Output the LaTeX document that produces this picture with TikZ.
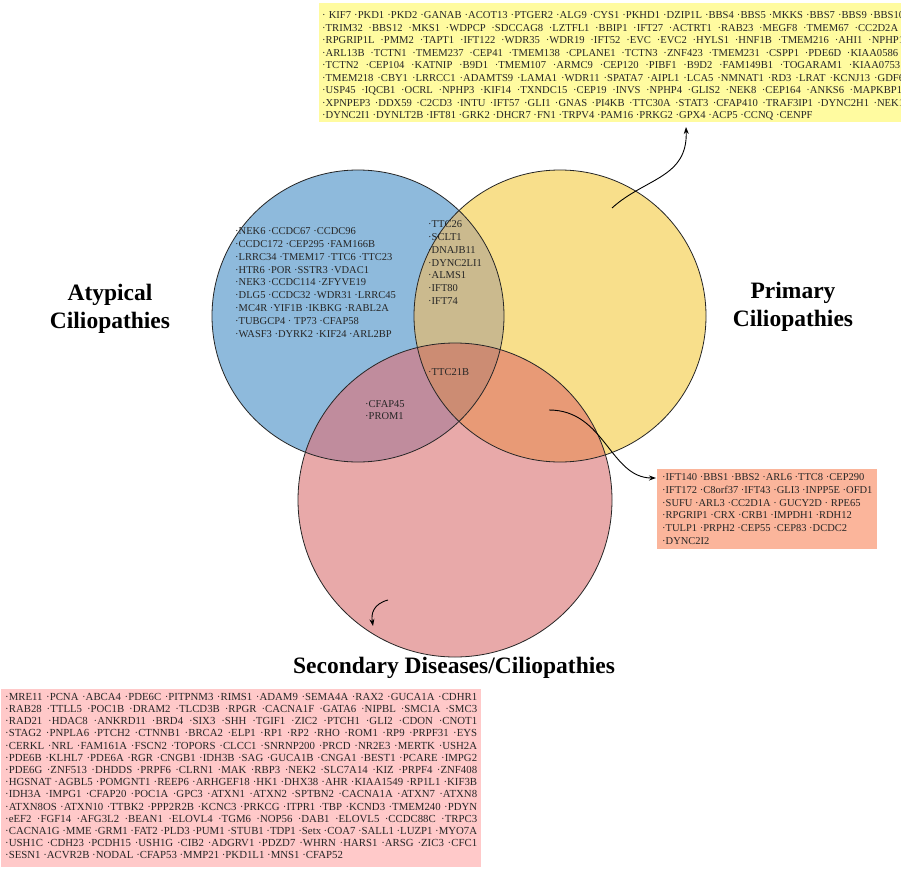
\documentclass[tikz,border=0pt]{standalone}
\usepackage{fontspec}
\setmainfont{Liberation Serif}
\usetikzlibrary{arrows.meta}
\definecolor{cblue}{HTML}{8EBADC}
\definecolor{cyel}{HTML}{F8DF8B}
\definecolor{cpink}{HTML}{E8A9A9}
\definecolor{cBY}{HTML}{CBBA8E}
\definecolor{cYP}{HTML}{E89A76}
\definecolor{cBP}{HTML}{C08C9D}
\definecolor{cTri}{HTML}{CC8C73}
\definecolor{boxyel}{HTML}{FFFBA0}
\definecolor{boxora}{HTML}{FBB59B}
\definecolor{boxpink}{HTML}{FFC9C9}
\newcommand{\jrow}[2]{\makebox[#1][s]{#2}}
\tikzset{
  vennline/.style={draw=black!85, line width=0.8pt},
  boxshape/.style={anchor=north west, inner sep=0pt, draw=none},
  genelist/.style={anchor=north west, align=left, inner sep=0pt, text=black!85},
  titletext/.style={font=\fontsize{23.5}{28.5}\selectfont\bfseries, align=center, text=black},
  pointer/.style={-{Stealth[length=7pt,width=5pt]}, line width=0.9pt, draw=black},
}
\begin{document}
\begin{tikzpicture}[x=1pt,y=-1pt]
\useasboundingbox (0,0) rectangle (901,869);
\clip (0,0) rectangle (901,869);
\fill[white] (0,0) rectangle (901,869);
\def\vennA{(358,316) circle[radius=146]}
\def\vennB{(560,316) circle[radius=146]}
\def\vennC{(455,500) circle[radius=157]}
% circles
\fill[cblue] \vennA;
\fill[cyel] \vennB;
\fill[cpink] \vennC;
\begin{scope}
  \clip \vennB;
  \fill[cYP] \vennC;
\end{scope}
\begin{scope}
  \clip \vennA;
  \fill[cBY] \vennB;
  \fill[cBP] \vennC;
  \clip \vennB;
  \fill[cTri] \vennC;
\end{scope}
\draw[vennline] \vennA;
\draw[vennline] \vennB;
\draw[vennline] \vennC;

% titles
\node[titletext] (atyp) at (110,309) {Atypical\\Ciliopathies};
\node[titletext] (prim) at (793,307) {Primary\\Ciliopathies};
\node[titletext] (second) at (454,668) {Secondary Diseases/Ciliopathies};

% circle lists
\node[genelist, font=\fontsize{10.5}{12.8}\selectfont] (atyplist) at (235,227.5) {%
·NEK6 ·CCDC67 ·CCDC96\\
·CCDC172 ·CEP295 ·FAM166B\\
·LRRC34 ·TMEM17 ·TTC6 ·TTC23\\
·HTR6 ·POR ·SSTR3 ·VDAC1\\
·NEK3 ·CCDC114 ·ZFYVE19\\
·DLG5 ·CCDC32 ·WDR31 ·LRRC45\\
·MC4R ·YIF1B ·IKBKG ·RABL2A\\
·TUBGCP4 · TP73 ·CFAP58\\
·WASF3 ·DYRK2 ·KIF24 ·ARL2BP};
\node[genelist, font=\fontsize{10.5}{12.8}\selectfont] (aplist) at (428,220.5) {%
·TTC26\\ ·SCLT1\\ ·DNAJB11\\ ·DYNC2LI1\\ ·ALMS1\\ ·IFT80\\ ·IFT74};
\node[genelist, font=\fontsize{10.5}{12.8}\selectfont] (trilist) at (428,368) {·TTC21B};
\node[genelist, font=\fontsize{10.5}{12.8}\selectfont] (aslist) at (365,400) {·CFAP45\\ ·PROM1};

% primary box
\node[boxshape, fill=boxyel, minimum width=600pt, minimum height=119pt] (primbox) at (319,3) {};
\node[genelist, font=\fontsize{10.6}{12.5}\selectfont] (primlist) at (322,11.5) {%
\jrow{582pt}{· KIF7 ·PKD1 ·PKD2 ·GANAB ·ACOT13 ·PTGER2 ·ALG9 ·CYS1 ·PKHD1 ·DZIP1L ·BBS4 ·BBS5 ·MKKS ·BBS7 ·BBS9 ·BBS10}\\
\jrow{576pt}{·TRIM32 ·BBS12 ·MKS1 ·WDPCP ·SDCCAG8 ·LZTFL1 ·BBIP1 ·IFT27 ·ACTRT1 ·RAB23 ·MEGF8 ·TMEM67 ·CC2D2A}\\
\jrow{582pt}{·RPGRIP1L ·PMM2 ·TAPT1 ·IFT122 ·WDR35 ·WDR19 ·IFT52 ·EVC ·EVC2 ·HYLS1 ·HNF1B ·TMEM216 ·AHI1 ·NPHP1}\\
\jrow{576pt}{·ARL13B ·TCTN1 ·TMEM237 ·CEP41 ·TMEM138 ·CPLANE1 ·TCTN3 ·ZNF423 ·TMEM231 ·CSPP1 ·PDE6D ·KIAA0586}\\
\jrow{578pt}{·TCTN2 ·CEP104 ·KATNIP ·B9D1 ·TMEM107 ·ARMC9 ·CEP120 ·PIBF1 ·B9D2 ·FAM149B1 ·TOGARAM1 ·KIAA0753}\\
\jrow{582pt}{·TMEM218 ·CBY1 ·LRRCC1 ·ADAMTS9 ·LAMA1 ·WDR11 ·SPATA7 ·AIPL1 ·LCA5 ·NMNAT1 ·RD3 ·LRAT ·KCNJ13 ·GDF6}\\
\jrow{580pt}{·USP45 ·IQCB1 ·OCRL ·NPHP3 ·KIF14 ·TXNDC15 ·CEP19 ·INVS ·NPHP4 ·GLIS2 ·NEK8 ·CEP164 ·ANKS6 ·MAPKBP1}\\
\jrow{582pt}{·XPNPEP3 ·DDX59 ·C2CD3 ·INTU ·IFT57 ·GLI1 ·GNAS ·PI4KB ·TTC30A ·STAT3 ·CFAP410 ·TRAF3IP1 ·DYNC2H1 ·NEK1}\\
·DYNC2I1 ·DYNLT2B ·IFT81 ·GRK2 ·DHCR7 ·FN1 ·TRPV4 ·PAM16 ·PRKG2 ·GPX4 ·ACP5 ·CCNQ ·CENPF};

% orange box
\node[boxshape, fill=boxora, minimum width=220pt, minimum height=80pt] (yellpinkbox) at (657,469) {};
\node[genelist, font=\fontsize{10.5}{12.8}\selectfont] (yplist) at (662,473.3) {%
·IFT140 ·BBS1 ·BBS2 ·ARL6 ·TTC8 ·CEP290\\
·IFT172 ·C8orf37 ·IFT43 ·GLI3 ·INPP5E ·OFD1\\
·SUFU ·ARL3 ·CC2D1A · GUCY2D · RPE65\\
·RPGRIP1 ·CRX ·CRB1 ·IMPDH1 ·RDH12\\
·TULP1 ·PRPH2 ·CEP55 ·CEP83 ·DCDC2\\
·DYNC2I2};

% secondary box
\node[boxshape, fill=boxpink, minimum width=480pt, minimum height=178pt] (secbox) at (1,689) {};
\node[genelist, font=\fontsize{10.8}{12.2}\selectfont] (seclist) at (5,693) {%
\jrow{472pt}{·MRE11 ·PCNA ·ABCA4 ·PDE6C ·PITPNM3 ·RIMS1 ·ADAM9 ·SEMA4A ·RAX2 ·GUCA1A ·CDHR1}\\
\jrow{472pt}{·RAB28 ·TTLL5 ·POC1B ·DRAM2 ·TLCD3B ·RPGR ·CACNA1F ·GATA6 ·NIPBL ·SMC1A ·SMC3}\\
\jrow{472pt}{·RAD21 ·HDAC8 ·ANKRD11 ·BRD4 ·SIX3 ·SHH ·TGIF1 ·ZIC2 ·PTCH1 ·GLI2 ·CDON ·CNOT1}\\
\jrow{472pt}{·STAG2 ·PNPLA6 ·PTCH2 ·CTNNB1 ·BRCA2 ·ELP1 ·RP1 ·RP2 ·RHO ·ROM1 ·RP9 ·PRPF31 ·EYS}\\
\jrow{472pt}{·CERKL ·NRL ·FAM161A ·FSCN2 ·TOPORS ·CLCC1 ·SNRNP200 ·PRCD ·NR2E3 ·MERTK ·USH2A}\\
\jrow{472pt}{·PDE6B ·KLHL7 ·PDE6A ·RGR ·CNGB1 ·IDH3B ·SAG ·GUCA1B ·CNGA1 ·BEST1 ·PCARE ·IMPG2}\\
\jrow{472pt}{·PDE6G ·ZNF513 ·DHDDS ·PRPF6 ·CLRN1 ·MAK ·RBP3 ·NEK2 ·SLC7A14 ·KIZ ·PRPF4 ·ZNF408}\\
\jrow{472pt}{·HGSNAT ·AGBL5 ·POMGNT1 ·REEP6 ·ARHGEF18 ·HK1 ·DHX38 ·AHR ·KIAA1549 ·RP1L1 ·KIF3B}\\
\jrow{472pt}{·IDH3A ·IMPG1 ·CFAP20 ·POC1A ·GPC3 ·ATXN1 ·ATXN2 ·SPTBN2 ·CACNA1A ·ATXN7 ·ATXN8}\\
\jrow{472pt}{·ATXN8OS ·ATXN10 ·TTBK2 ·PPP2R2B ·KCNC3 ·PRKCG ·ITPR1 ·TBP ·KCND3 ·TMEM240 ·PDYN}\\
\jrow{472pt}{·eEF2 ·FGF14 ·AFG3L2 ·BEAN1 ·ELOVL4 ·TGM6 ·NOP56 ·DAB1 ·ELOVL5 ·CCDC88C ·TRPC3}\\
\jrow{472pt}{·CACNA1G ·MME ·GRM1 ·FAT2 ·PLD3 ·PUM1 ·STUB1 ·TDP1 ·Setx ·COA7 ·SALL1 ·LUZP1 ·MYO7A}\\
\jrow{472pt}{·USH1C ·CDH23 ·PCDH15 ·USH1G ·CIB2 ·ADGRV1 ·PDZD7 ·WHRN ·HARS1 ·ARSG ·ZIC3 ·CFC1}\\
·SESN1 ·ACVR2B ·NODAL ·CFAP53 ·MMP21 ·PKD1L1 ·MNS1 ·CFAP52};

% pointers
\coordinate (p1s) at (612,208);
\coordinate (p1e) at (686,127);
\draw[pointer] (p1s) .. controls (645,178) and (688,178) .. (p1e);
\coordinate (p2s) at (549,410);
\coordinate (p2e) at (656,478);
\draw[pointer] (p2s) .. controls (605,410) and (610,478) .. (p2e);
\coordinate (p3s) at (388,600);
\coordinate (p3e) at (373,626);
\draw[pointer] (p3s) .. controls (373,604) and (371,614) .. (p3e);
\end{tikzpicture}
\end{document}
